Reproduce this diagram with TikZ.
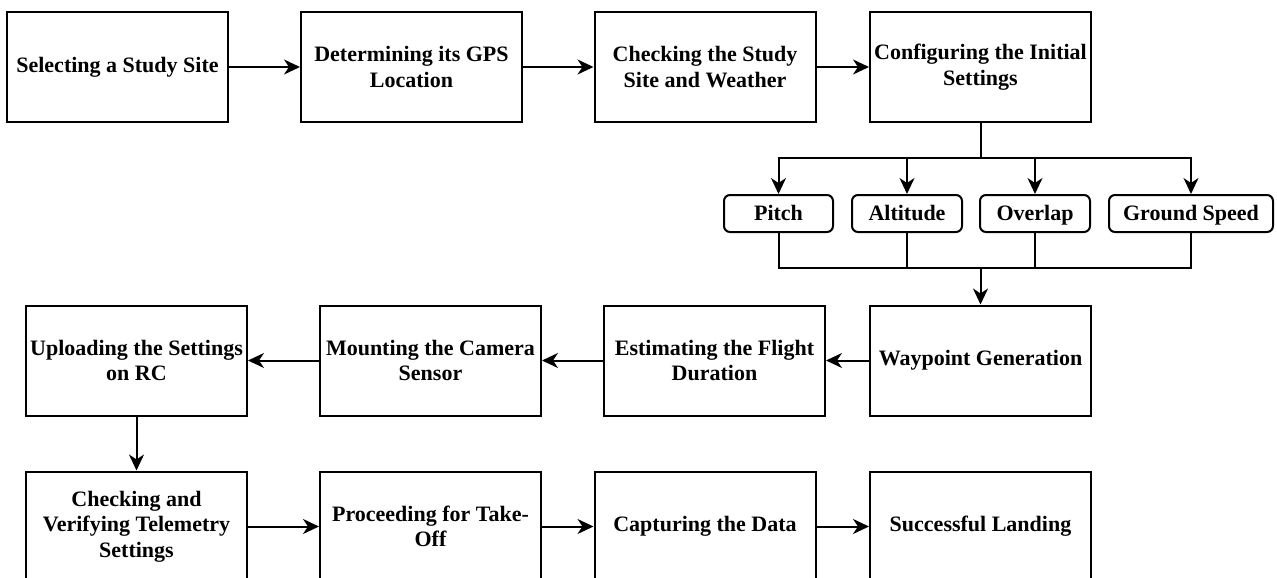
\documentclass[tikz,border=0pt]{standalone}
\usepackage{fontspec}
\setmainfont{Liberation Serif}
\usetikzlibrary{arrows.meta}
\usetikzlibrary{calc}

\tikzset{
    stepbox/.style = {draw, line width=2pt, minimum width=221pt, minimum height=110pt,
        align=center, inner sep=1pt, font=\fontsize{22}{25.5}\selectfont\bfseries},
    param/.style = {draw, line width=2pt, rounded corners=6pt, minimum height=37pt,
        inner sep=2pt, text height=17pt, text depth=3pt,
        font=\fontsize{22}{25.5}\selectfont\bfseries},
    flow/.style = {line width=2pt, -{Stealth[length=16pt, width=15pt, inset=5pt]}},
    link/.style = {line width=2pt}
}

\begin{document}
\begin{tikzpicture}[x=1pt, y=-1pt]
    \useasboundingbox (0,0) rectangle (1277,578);

    % First row of steps
    \node [stepbox] (site)   at (117.5,67) {Selecting a Study Site};
    \node [stepbox] (gps)    at (411.5,67) {Determining its GPS\\Location};
    \node [stepbox] (check)  at (705,67)   {Checking the Study\\Site and Weather};
    \node [stepbox] (config) at (980.5,67) {Configuring the Initial\\Settings};

    % Initial settings
    \node [param, minimum width=109pt] (pitch)   at (778.5,213.5) {Pitch};
    \node [param, minimum width=110pt] (alt)     at (907,213.5)   {Altitude};
    \node [param, minimum width=110pt] (overlap) at (1035,213.5)  {Overlap};
    \node [param, minimum width=164pt] (speed)   at (1191,213.5)  {Ground Speed};

    % Second row of steps
    \node [stepbox] (upload)   at (136.5,360.5) {Uploading the Settings\\on RC};
    \node [stepbox] (mount)    at (430.5,360.5) {Mounting the Camera\\Sensor};
    \node [stepbox] (duration) at (714.5,360.5) {Estimating the Flight\\Duration};
    \node [stepbox] (waypoint) at (980.5,360.5) {Waypoint Generation};

    % Third row of steps
    \node [stepbox] (telemetry) at (136.5,526.5) {Checking and\\Verifying Telemetry\\Settings};
    \node [stepbox] (takeoff)   at (430.5,526.5) {Proceeding for Take-\\Off};
    \node [stepbox] (capture)   at (705,526.5)   {Capturing the Data};
    \node [stepbox] (landing)   at (980.5,526.5) {Successful Landing};

    \coordinate (fork) at ($(config.south) + (0,35)$);
    \coordinate (join) at ($(waypoint.north) + (0,-37)$);

    % Draw the arrows
    \draw [flow] (site) -- (gps);
    \draw [flow] (gps) -- (check);
    \draw [flow] (check) -- (config);

    \draw [link] (config.south) -- (fork);
    \foreach \p in {pitch, alt, overlap, speed} {
        \draw [flow] (fork) -| (\p.north);
        \draw [link] (\p.south) |- (join);
    }
    \draw [flow] (join) -- (waypoint.north);

    \draw [flow] (waypoint) -- (duration);
    \draw [flow] (duration) -- (mount);
    \draw [flow] (mount) -- (upload);
    \draw [flow] (upload) -- (telemetry);

    \draw [flow] (telemetry) -- (takeoff);
    \draw [flow] (takeoff) -- (capture);
    \draw [flow] (capture) -- (landing);
\end{tikzpicture}
\end{document}
